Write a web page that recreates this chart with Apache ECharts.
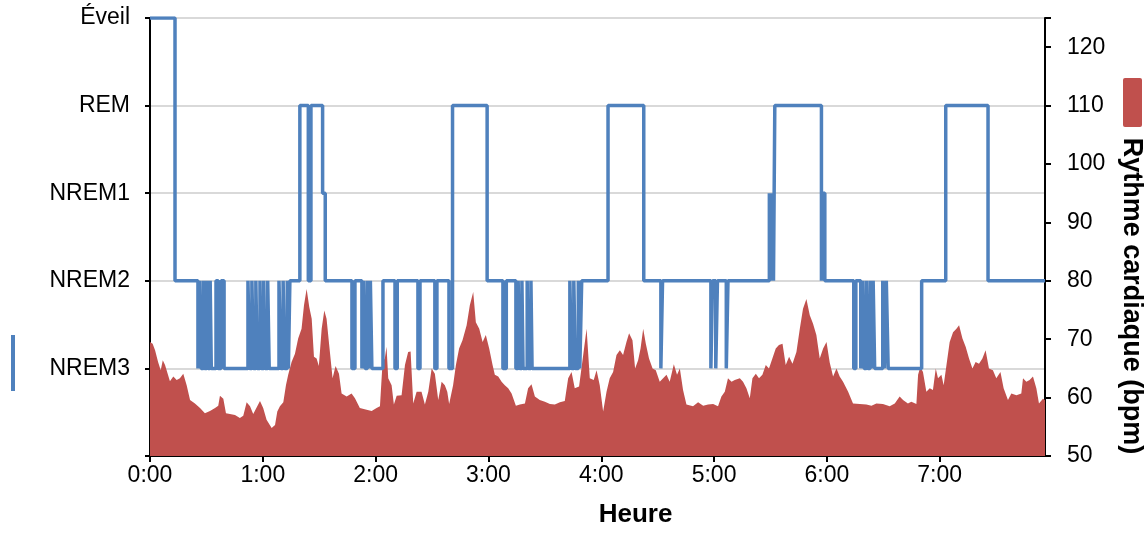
<!DOCTYPE html>
<html>
<head>
<meta charset="utf-8">
<script src="https://cdn.jsdelivr.net/npm/echarts@6/dist/echarts.min.js"></script>
<style>
html,body{margin:0;padding:0;background:#fff;}
#chart{width:1146px;height:533px;}
</style>
</head>
<body>
<div id="chart"></div>
<script>
// Sleep stage labels (value 0..5)
const stageLabels = ['', 'NREM3', 'NREM2', 'NREM1', 'REM', 'Éveil'];

// Hypnogram: time (minutes) at which each stage begins, and the stage value
const hypTime = [0, 13.3,
  25.5, 26.4, 27.2, 28.4, 29.0, 30.2, 30.9, 32.0, 32.6,
  35.1, 36.3, 37.8, 39.4,
  52.1, 53.0, 54.2, 55.0, 56.3, 57.0, 58.5, 59.2, 60.5, 61.2, 62.6, 63.4,
  68.6, 69.6, 70.8, 71.6, 73.0, 73.6, 74.4,
  79.7, 84.2, 85.6, 91.8, 93.2,
  107.4, 109.0, 112.7, 113.6, 114.4, 115.6, 116.3, 117.2, 118.0,
  123.9, 130.3, 131.5, 142.5, 143.6, 151.5, 152.6, 159.0, 160.9,
  179.3, 187.7, 189.5,
  194.6, 195.8, 196.6, 197.8, 198.4, 200.6, 201.2, 202.6, 203.2,
  223.3, 224.2, 225.4, 226.2, 227.8, 228.6, 229.6,
  243.6, 262.6, 271.7, 272.6, 298.3, 299.2, 300.9, 301.8, 306.5, 307.4,
  329.4, 330.2, 330.8, 331.6, 332.3, 357.1, 357.8, 358.9,
  374.3, 375.4, 378.0, 379.0, 379.8, 381.0, 381.8, 383.0, 383.8, 384.6, 385.4,
  389.7, 390.6, 391.6, 392.6,
  410.4, 423.2, 445.7, 476];
const hypStage = [5, 2,
  1, 2, 1, 2, 1, 2, 1, 2, 1,
  2, 1, 2, 1,
  2, 1, 2, 1, 2, 1, 2, 1, 2, 1, 2, 1,
  2, 1, 2, 1, 2, 1, 2,
  4, 2, 4, 3, 2,
  1, 2, 1, 2, 1, 2, 1, 2, 1,
  2, 1, 2, 1, 2, 1, 2, 1, 4,
  2, 1, 2,
  1, 2, 1, 2, 1, 2, 1, 2, 1,
  2, 1, 2, 1, 2, 1, 2,
  4, 2, 1, 2, 1, 2, 1, 2, 1, 2,
  3, 2, 3, 2, 4, 2, 3, 2,
  1, 2, 1, 2, 1, 2, 1, 2, 1, 2, 1,
  2, 1, 2, 1,
  2, 4, 2, 2];

// Heart rate (bpm) samples: time in minutes and value
const hrTime = [0, 1.4, 2.7, 4.3, 5.7, 6.8, 8.0, 8.9, 10.6, 12.4, 14.2, 15.9, 17.7, 19.5, 21.3, 23.9,
  26.6, 29.2, 31.9, 34.6, 36.3, 37.2, 39.0, 40.4, 42.5, 45.2, 47.8, 49.6, 51.4, 53.2, 54.9, 56.7,
  58.5, 60.2, 62.0, 64.7, 66.5, 67.7, 69.1, 70.9, 72.3, 73.5, 75.3, 77.1, 78.8, 80.6, 81.9, 83.3,
  84.7, 86.0, 87.2, 88.6, 89.8, 91.3, 92.7, 93.9, 95.3, 97.1, 98.7, 100.5, 101.9, 104.6, 107.2,
  109.0, 111.6, 115.2, 117.9, 120.5, 122.3, 123.7, 124.9, 125.8, 126.7, 128.5, 129.7, 131.2,
  133.8, 135.6, 137.3, 138.6, 140.0, 141.8, 144.4, 146.2, 148.0, 149.8, 151.5, 153.3, 155.1,
  156.8, 158.1, 159.1, 161.2, 162.7, 164.4, 166.2, 168.4, 170.1, 171.9, 173.3, 175.1, 176.9,
  178.6, 180.4, 182.2, 183.4, 185.2, 187.0, 188.7, 190.5, 192.3, 194.6, 196.7, 199.4, 201.1,
  202.9, 204.7, 207.3, 210.0, 212.7, 215.3, 218.0, 220.6, 222.4, 224.2, 225.9, 228.2, 230.4,
  232.2, 233.9, 236.0, 237.5, 239.2, 241.0, 242.8, 244.5, 246.3, 248.1, 249.9, 251.6, 253.4,
  254.8, 256.6, 258.0, 259.6, 260.9, 262.3, 263.7, 265.4, 267.3, 269.0, 271.1, 272.9, 274.7,
  276.4, 278.6, 280.3, 281.8, 283.5, 285.3, 288.8, 291.5, 294.2, 296.8, 299.5, 302.1, 303.9,
  305.7, 307.4, 309.3, 311.0, 313.7, 315.4, 317.2, 319.0, 320.4, 322.2, 323.9, 325.7, 327.5,
  329.2, 331.0, 332.8, 334.5, 336.4, 338.1, 339.9, 341.7, 343.8, 345.6, 347.3, 349.1, 350.9,
  352.6, 354.4, 356.2, 358.0, 359.8, 361.5, 363.3, 365.1, 366.8, 368.6, 371.3, 373.9, 377.5,
  381.0, 383.7, 386.3, 389.8, 393.4, 396.1, 398.7, 400.5, 403.1, 404.9, 407.6, 408.5, 409.7,
  411.1, 412.9, 414.7, 416.4, 417.9, 419.1, 420.9, 422.1, 423.6, 425.3, 427.1, 428.9, 430.3,
  432.1, 433.8, 435.6, 437.4, 439.1, 440.9, 442.7, 444.4, 446.2, 448.3, 450.1, 452.3, 454.0,
  456.3, 458.1, 460.8, 463.4, 464.3, 466.1, 467.8, 469.6, 471.4, 472.8, 474.9, 476];
const hrValue = [69.5, 69.2, 68.1, 66.1, 64.7, 66.4, 65.6, 65.4, 62.8, 63.6, 63.0, 63.3, 64.1, 62.1, 59.6, 59.0,
  58.2, 57.3, 57.7, 58.2, 58.6, 60.3, 59.8, 57.3, 57.2, 57.0, 56.5, 56.9, 59.2, 58.5, 57.2, 58.3,
  59.4, 58.2, 56.2, 54.8, 55.3, 57.6, 58.5, 59.2, 62.1, 63.9, 66.1, 67.5, 70.1, 71.8, 75.8, 78.6,
  75.5, 73.5, 67.0, 66.7, 65.4, 71.8, 74.9, 73.5, 69.0, 63.3, 65.4, 64.1, 60.7, 60.2, 60.7,
  59.9, 58.2, 57.9, 57.7, 58.2, 58.5, 66.1, 66.7, 68.7, 63.3, 62.1, 58.8, 60.3,
  60.4, 65.6, 67.8, 67.9, 59.0, 61.0, 61.0, 58.8, 61.0, 65.0, 64.1, 59.6, 62.7,
  62.1, 61.0, 58.9, 62.1, 65.6, 68.4, 69.8, 72.4, 75.8, 78.1, 72.9, 71.8, 69.5,
  70.7, 68.4, 65.6, 63.9, 63.6, 62.7, 62.1, 61.6, 60.7, 58.6, 58.8, 59.0, 61.6,
  62.3, 60.2, 59.6, 59.3, 58.9, 58.8, 59.2, 59.4, 63.3, 64.4, 61.6, 61.9, 67.3,
  71.8, 63.3, 63.0, 64.7, 62.1, 57.6, 61.0, 63.3, 64.4, 67.3, 68.1, 67.3, 69.5,
  71.0, 69.8, 65.0, 66.4, 68.4, 71.8, 69.2, 66.7, 65.0, 64.7, 62.7, 63.3, 63.9,
  62.7, 65.7, 63.9, 65.0, 61.3, 58.8, 58.5, 59.2, 58.6, 58.8, 58.9, 58.5, 60.2,
  61.0, 63.3, 62.7, 63.0, 63.3, 62.7, 61.6, 59.9, 63.3, 64.1, 63.3, 63.9, 65.6,
  65.0, 66.7, 68.4, 69.0, 69.2, 65.6, 67.0, 65.8, 67.8, 71.8, 75.2, 76.9, 74.1,
  72.7, 70.7, 66.7, 68.4, 69.5, 66.0, 63.6, 65.0, 63.6, 62.7, 61.0, 59.0, 58.9,
  58.8, 58.6, 59.0, 58.9, 58.5, 59.0, 60.2, 59.6, 59.0, 59.3, 58.9, 63.9, 65.3,
  64.4, 61.0, 61.6, 61.3, 65.0, 63.3, 63.9, 62.1, 65.6, 69.5, 71.2, 71.8, 72.4,
  70.1, 68.7, 66.7, 65.0, 66.1, 65.8, 66.7, 68.1, 65.0, 64.7, 63.3, 64.4, 61.6,
  59.6, 60.7, 60.4, 60.7, 63.3, 62.7, 63.0, 63.6, 61.6, 59.0, 59.8, 59.6];

const xMax = 476;
const hourTicks = 60;

const hypData = hypTime.map((t, i) => [t, hypStage[i]]);
const hrData = hrTime.map((t, i) => [t, hrValue[i]]);

const FONT = "'Liberation Sans', Arial, sans-serif";
const chart = echarts.init(document.getElementById('chart'), null, {renderer: 'canvas'});
chart.setOption({
  animation: false,
  backgroundColor: '#ffffff',
  grid: {left: 150, right: 101, top: 18, bottom: 75, containLabel: false},
  xAxis: {
    type: 'value', min: 0, max: xMax, interval: hourTicks,
    name: 'Heure', nameLocation: 'middle', nameGap: 46,
    nameTextStyle: {fontFamily: FONT, fontSize: 26, fontWeight: 'bold', color: '#000', padding: [0, 0, 0, 76]},
    axisLine: {show: true, onZero: false, lineStyle: {color: '#000', width: 2}},
    axisTick: {show: true, inside: false, length: 6, lineStyle: {color: '#000', width: 2}},
    axisLabel: {
      margin: 8, color: '#000', fontFamily: FONT, fontSize: 23,
      showMaxLabel: false,
      formatter: v => (v % 60 === 0 ? (v / 60) + ':00' : '')
    },
    splitLine: {show: false}
  },
  yAxis: [
    {
      type: 'value', min: 0, max: 5, interval: 1, position: 'left',
      axisLine: {show: true, lineStyle: {color: '#000', width: 2}},
      axisTick: {show: true, length: 5, lineStyle: {color: '#000', width: 2}},
      axisLabel: {margin: 20, color: '#000', fontFamily: FONT, fontSize: 23,
        formatter: v => stageLabels[Math.round(v)] || ''},
      splitLine: {show: true, lineStyle: {color: '#d9d9d9', width: 2}}
    },
    {
      type: 'value', min: 50, max: 125, interval: 10, position: 'right',
      axisLine: {show: true, lineStyle: {color: '#000', width: 2}},
      axisTick: {show: true, length: 6, lineStyle: {color: '#000', width: 2}},
      axisLabel: {margin: 22, color: '#000', fontFamily: FONT, fontSize: 23,
        formatter: v => (v === 125 ? '' : String(v))},
      splitLine: {show: false}
    }
  ],
  series: [
    {
      name: 'Rythme cardiaque (bpm)', type: 'line', yAxisIndex: 1, data: hrData,
      symbol: 'none', smooth: false, z: 1,
      lineStyle: {width: 0, color: '#C0504D'},
      areaStyle: {color: '#C0504D', opacity: 1, origin: 'start'}
    },
    {
      name: 'Hypnogramme', type: 'line', yAxisIndex: 0, data: hypData,
      symbol: 'none', step: 'end', z: 3,
      lineStyle: {width: 3.5, color: '#4F81BD'}
    }
  ],
  graphic: [
    {type: 'line', shape: {x1: 13, y1: 335, x2: 13, y2: 391}, style: {stroke: '#4F81BD', lineWidth: 4}},
    {type: 'rect', shape: {x: 1123, y: 78, width: 19, height: 49, r: 2}, style: {fill: '#C0504D'}},
    {type: 'text', x: 1131, y: 296, rotation: -Math.PI / 2,
      style: {text: 'Rythme cardiaque (bpm)', fontFamily: FONT, fontSize: 27, fontWeight: 'bold', fill: '#000',
        align: 'center', verticalAlign: 'middle'}}
  ]
});
</script>
</body>
</html>
